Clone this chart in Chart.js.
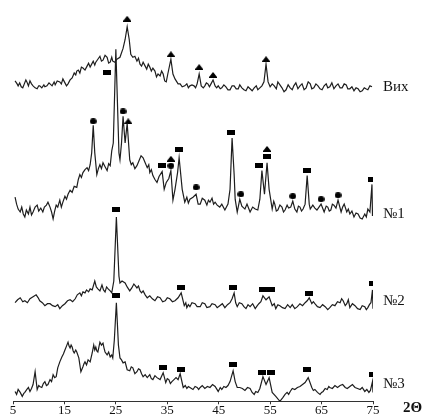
<!DOCTYPE html>
<html>
<head>
<meta charset="utf-8">
<title>XRD</title>
<script src="https://cdn.jsdelivr.net/npm/chart.js@4.4.1/dist/chart.umd.min.js"></script>
<style>
  body { margin: 0; background: #fff; }
  #holder { width: 432px; height: 416px; }
</style>
</head>
<body>
<div id="holder"><canvas id="xrd" width="432" height="416"></canvas></div>
<script>
// 2Theta, intensity (arbitrary, curves stacked)
var vih = [[5.4,325],[5.8,322],[6.0,320],[6.3,323],[6.6,319],[6.9,318],[7.2,322],[7.5,326],[7.7,324],[8.0,320],
  [8.3,325],[8.6,322],[8.9,320],[9.3,318],[9.7,317],[10.0,320],[10.2,320],[10.6,318],[11.0,321],[11.2,319],
  [11.6,320],[12.0,323],[12.2,322],[12.6,320],[13.0,324],[13.2,321],[13.6,325],[14.1,324],[14.4,322],[14.7,327],
  [15.1,323],[15.4,320],[15.7,322],[16.1,326],[16.5,328],[16.9,333],[17.2,331],[17.4,335],[17.7,336],[18.0,333],
  [18.3,339],[18.6,338],[19.0,336],[19.4,340],[19.7,343],[20.0,339],[20.3,342],[20.6,345],[20.9,341],[21.1,344],
  [21.5,347],[21.9,350],[22.2,345],[22.5,346],[22.9,351],[23.3,349],[23.6,343],[23.9,344],[24.2,349],[24.4,345],
  [24.8,344],[25.2,347],[25.8,349],[26.4,358],[26.8,367],[27.2,380],[27.6,367],[27.9,352],[28.3,349],[28.7,350],
  [29.1,345],[29.4,348],[29.7,342],[30.0,340],[30.3,344],[30.7,340],[31.0,337],[31.3,342],[31.6,339],[31.9,335],
  [32.2,338],[32.6,335],[32.9,329],[33.2,332],[33.6,330],[33.9,335],[34.2,332],[34.5,325],[34.8,324],[35.1,332],
  [35.7,347],[36.1,332],[36.5,327],[37.1,322],[37.5,322],[37.9,319],[38.4,320],[38.8,322],[39.1,318],[39.4,320],
  [39.8,321],[40.2,320],[40.5,318],[40.8,322],[41.2,332],[41.6,320],[42.0,318],[42.3,320],[42.6,323],[42.9,322],
  [43.2,319],[43.5,322],[43.9,326],[44.3,320],[44.6,318],[44.9,320],[45.3,317],[45.6,318],[46.0,321],[46.4,319],
  [46.8,316],[47.2,316],[47.6,320],[48.0,320],[48.4,317],[48.8,317],[49.1,321],[49.5,318],[49.9,316],[50.3,315],
  [50.7,319],[51.1,317],[51.5,315],[51.9,318],[52.3,320],[52.6,316],[53.0,318],[53.4,320],[53.8,324],[54.2,342],
  [54.6,324],[55.0,319],[55.4,322],[55.8,320],[56.2,317],[56.5,324],[56.9,321],[57.3,318],[57.7,314],[58.1,316],
  [58.5,321],[58.9,318],[59.3,316],[59.6,320],[60.0,323],[60.4,317],[60.8,320],[61.2,322],[61.6,316],[62.0,318],
  [62.4,324],[62.8,322],[63.1,317],[63.5,318],[63.9,322],[64.3,320],[64.7,317],[65.1,316],[65.5,320],[65.9,322],
  [66.2,318],[66.6,319],[67.0,323],[67.4,317],[67.8,320],[68.2,322],[68.6,318],[69.0,318],[69.4,322],[69.8,321],
  [70.1,317],[70.5,317],[70.9,319],[71.3,315],[71.7,318],[72.1,317],[72.5,314],[72.9,315],[73.3,318],[73.6,317],
  [74.0,316],[74.4,320],[74.8,319]];

var s1 = [[5.4,207],[5.7,200],[6.0,195],[6.4,192],[6.7,197],[7.0,190],[7.3,187],[7.6,194],[8.0,190],[8.3,197],
  [8.6,189],[8.9,192],[9.3,197],[9.7,199],[10.0,193],[10.4,196],[10.8,192],[11.1,197],[11.5,199],[11.8,202],
  [12.2,197],[12.5,192],[12.8,185],[13.1,193],[13.4,199],[13.7,197],[14.1,204],[14.4,197],[14.7,202],[15.1,208],
  [15.4,205],[15.7,210],[16.1,214],[16.5,212],[16.9,218],[17.4,217],[17.7,225],[18.0,230],[18.3,227],[18.6,232],
  [19.0,235],[19.4,237],[19.7,234],[20.0,240],[20.3,252],[20.6,280],[20.9,252],[21.3,230],[21.6,236],[21.9,240],
  [22.2,236],[22.5,242],[22.9,238],[23.3,234],[23.6,241],[23.9,239],[24.2,254],[24.5,262],[25.0,357],[25.6,252],
  [25.8,245],[26.1,262],[26.4,289],[26.8,262],[27.2,282],[27.7,245],[28.0,240],[28.3,242],[28.7,236],[29.1,239],
  [29.5,244],[29.9,249],[30.3,247],[30.7,242],[31.1,237],[31.4,240],[31.6,232],[31.9,235],[32.2,229],[32.6,225],
  [33.0,222],[33.4,228],[34.0,233],[34.4,215],[34.8,222],[35.3,226],[35.7,234],[36.1,204],[36.5,215],[37.0,232],
  [37.3,247],[37.9,215],[38.4,202],[38.8,207],[39.1,201],[39.4,205],[40.0,207],[40.6,210],[41.0,200],[41.4,200],
  [41.8,206],[42.3,204],[42.7,199],[43.0,204],[43.3,202],[43.7,206],[44.0,200],[44.3,202],[44.7,199],[45.2,197],
  [45.6,200],[46.2,194],[46.8,200],[47.2,215],[47.6,267],[48.0,230],[48.2,205],[48.6,192],[49.1,205],[49.5,198],
  [50.1,195],[50.5,200],[51.1,192],[51.6,197],[52.1,195],[52.6,194],[53.0,205],[53.4,234],[53.9,210],[54.4,242],
  [54.8,215],[55.4,195],[55.7,203],[55.9,200],[56.2,193],[56.5,194],[56.9,199],[57.3,197],[57.6,192],[57.9,194],
  [58.3,199],[58.6,196],[59.0,197],[59.4,203],[59.8,195],[60.2,192],[60.5,198],[60.8,197],[61.1,193],[61.4,195],
  [61.8,200],[62.2,229],[62.6,200],[62.8,195],[63.3,199],[63.7,196],[64.1,194],[64.5,197],[64.9,200],[65.5,192],
  [65.9,198],[66.2,197],[66.5,193],[66.8,194],[67.1,200],[67.4,199],[67.8,196],[68.2,204],[68.8,192],[69.1,197],
  [69.4,200],[69.9,192],[70.2,195],[70.5,190],[70.9,193],[71.3,187],[71.7,191],[72.1,190],[72.5,186],[72.9,185],
  [73.4,190],[73.7,187],[74.0,195],[74.4,192],[74.8,220],[74.9,188]];

var s2 = [[5.4,100],[5.9,103],[6.4,105],[6.9,101],[7.3,102],[7.8,100],[8.3,104],[8.9,106],[9.5,108],[9.9,105],
  [10.2,102],[10.7,100],[11.2,97],[11.7,99],[12.2,99],[12.7,97],[13.2,96],[13.7,98],[14.1,94],[14.6,97],
  [15.1,99],[15.6,102],[16.1,103],[16.6,101],[17.1,104],[17.5,108],[18.0,110],[18.3,107],[18.6,111],[19.0,110],
  [19.3,113],[19.7,111],[20.0,114],[20.4,113],[20.9,122],[21.2,116],[21.5,114],[21.9,112],[22.3,118],[22.6,113],
  [22.9,111],[23.2,116],[23.5,114],[23.9,112],[24.2,110],[24.6,122],[25.1,187],[25.6,127],[25.8,120],[26.2,122],
  [26.8,120],[27.2,116],[27.7,112],[28.1,115],[28.5,119],[28.8,117],[29.1,115],[29.4,117],[29.7,112],[30.0,110],
  [30.3,112],[30.7,108],[31.1,105],[31.6,107],[32.1,104],[32.6,102],[33.1,106],[33.6,105],[34.1,101],[34.6,102],
  [35.0,105],[35.5,104],[36.0,101],[36.5,102],[37.1,105],[37.7,110],[38.3,97],[38.6,100],[38.8,95],[39.1,98],
  [39.4,96],[39.8,100],[40.4,99],[40.8,96],[41.4,96],[41.8,100],[42.3,99],[42.7,95],[43.3,96],[43.7,99],
  [44.3,98],[44.7,95],[45.2,97],[45.7,99],[46.2,95],[46.7,98],[47.2,100],[47.6,104],[48.0,110],[48.3,100],
  [48.6,96],[49.0,100],[49.5,99],[49.9,96],[50.3,94],[50.7,98],[51.1,96],[51.6,99],[52.1,94],[52.5,97],
  [52.8,99],[53.2,101],[53.6,107],[54.2,103],[54.8,106],[55.4,97],[55.8,99],[56.1,94],[56.5,98],[56.9,97],
  [57.4,95],[57.9,94],[58.4,98],[58.9,95],[59.3,98],[59.8,94],[60.3,96],[60.8,99],[61.3,97],[61.8,100],
  [62.2,102],[62.6,105],[63.1,99],[63.4,101],[63.7,99],[64.2,96],[64.7,95],[65.2,98],[65.7,96],[66.2,93],
  [66.6,95],[67.1,98],[67.6,97],[68.1,101],[68.6,100],[68.9,104],[69.2,102],[69.6,97],[69.9,99],[70.2,103],
  [70.5,95],[71.0,99],[71.5,97],[72.0,94],[72.5,93],[72.9,97],[73.4,96],[73.7,93],[74.0,95],[74.3,98],
  [74.6,100],[74.9,113],[75.0,94]];

var s3 = [[5.4,10],[5.7,7],[6.0,12],[6.4,9],[6.8,5],[7.1,8],[7.3,9],[7.7,12],[8.0,14],[8.3,10],
  [8.6,13],[8.9,17],[9.3,30],[9.7,12],[10.0,16],[10.2,15],[10.6,14],[10.9,18],[11.2,20],[11.5,16],
  [11.8,17],[12.2,22],[12.5,20],[12.8,27],[13.1,24],[13.4,25],[13.7,34],[14.1,40],[14.5,45],[14.8,48],
  [15.1,52],[15.4,56],[15.7,60],[15.9,56],[16.1,54],[16.3,57],[16.5,55],[16.7,51],[16.9,49],[17.2,52],
  [17.4,50],[17.8,44],[18.2,30],[18.6,35],[18.8,38],[19.0,40],[19.3,37],[19.6,42],[20.0,40],[20.4,49],
  [20.7,57],[20.9,52],[21.1,55],[21.3,51],[21.5,50],[21.9,60],[22.2,57],[22.5,59],[22.7,54],[22.9,50],
  [23.3,47],[23.6,50],[23.9,45],[24.2,47],[24.4,44],[24.7,62],[25.1,100],[25.5,57],[25.8,44],[26.1,42],
  [26.4,39],[26.8,40],[27.2,32],[27.7,31],[28.0,35],[28.3,34],[28.7,28],[29.1,30],[29.4,33],[29.7,32],
  [30.0,28],[30.3,25],[30.7,27],[31.1,24],[31.6,27],[31.9,23],[32.2,22],[32.6,26],[33.0,24],[33.6,22],
  [34.2,29],[34.7,19],[35.0,23],[35.3,22],[35.6,18],[35.9,20],[36.3,22],[36.7,24],[37.1,22],[37.5,28],
  [38.1,14],[38.5,16],[38.8,13],[39.1,15],[39.4,14],[40.0,12],[40.4,15],[40.8,14],[41.1,12],[41.4,14],
  [41.8,16],[42.3,13],[42.8,15],[43.3,14],[43.8,17],[44.3,15],[44.9,10],[45.3,14],[45.6,12],[46.0,15],
  [46.4,14],[46.8,16],[47.2,20],[47.8,31],[48.2,20],[48.6,14],[49.1,14],[49.6,13],[50.1,11],[50.6,14],
  [51.1,13],[51.5,9],[51.9,7],[52.2,10],[52.6,9],[53.0,13],[53.6,25],[54.2,17],[54.8,24],[55.4,9],
  [56.1,5],[56.9,0],[57.5,4],[57.9,7],[58.3,9],[58.6,7],[58.9,10],[59.3,13],[59.8,12],[60.3,14],
  [60.8,15],[61.3,17],[61.8,19],[62.4,24],[63.1,14],[63.4,11],[63.7,12],[64.2,9],[64.7,7],[65.0,9],
  [65.3,10],[65.7,13],[66.1,12],[66.4,15],[66.6,14],[67.1,13],[67.6,16],[68.1,14],[68.6,16],[69.1,17],
  [69.6,14],[70.0,13],[70.5,15],[71.0,17],[71.5,14],[72.0,13],[72.5,12],[72.9,14],[73.4,10],[73.8,12],
  [74.2,9],[74.5,11],[74.9,20],[75.0,9]];

// phase markers
var squares = [[23.3,334],[34.0,239],[37.2,255],[47.4,273],[52.9,239],[54.4,248],[62.2,234],[74.8,225],
  [25.0,195],[37.7,115],[47.8,115],[53.6,113],[55.2,113],[62.6,109],[75.0,119],
  [25.0,107],[34.2,34],[37.7,32],[47.8,37],[53.4,29],[55.2,29],[62.2,32],[75.0,27]];
var triangles = [[27.2,388],[35.7,352],[41.2,339],[43.9,331],[54.2,347],
  [27.4,284],[35.7,246],[54.4,256]];
var circles = [[20.6,284],[26.4,294],[35.7,239],[40.6,217],[49.3,210],[59.4,208],[64.9,205],[68.2,209]];

var curveNames = ['Вих', '№1', '№2', '№3'];
var nameLevels = [319, 190, 102, 17];
var xTicks = [5, 15, 25, 35, 45, 55, 65, 75];

function mkIcon(kind) {
  var c = document.createElement('canvas');
  var g = c.getContext('2d');
  g.fillStyle = '#000';
  if (kind == 'rect') {
    c.width = 8; c.height = 5;
    g.fillRect(0, 0, 8, 5);
  } else if (kind == 'tri') {
    c.width = 8; c.height = 6;
    g.beginPath(); g.moveTo(4, 0); g.lineTo(8, 5); g.lineTo(0, 5); g.closePath(); g.fill();
    g.fillRect(0, 5, 8, 1);
  } else {
    c.width = 7; c.height = 6;
    g.beginPath(); g.ellipse(3.5, 3, 3.4, 2.9, 0, 0, Math.PI * 2); g.fill();
  }
  return c;
}

function pts(arr) {
  return arr.map(function(p) { return {x: p[0], y: p[1]}; });
}

function curve(arr) {
  return {type: 'line', data: pts(arr), borderColor: '#1e1e1e', borderWidth: 1.2,
    pointRadius: 0, tension: 0, fill: false};
}

function marks(arr, kind) {
  return {type: 'scatter', data: pts(arr), pointStyle: mkIcon(kind), pointRadius: 4, showLine: false};
}

var labelPlugin = {
  id: 'curveNames',
  afterDraw: function(chart) {
    var ctx = chart.ctx, xs = chart.scales.x, ys = chart.scales.y;
    ctx.save();
    ctx.fillStyle = '#111';
    ctx.textBaseline = 'middle';
    ctx.font = '15px "Liberation Serif"';
    for (var i = 0; i < curveNames.length; i++) {
      ctx.fillText(curveNames[i], xs.getPixelForValue(75) + 10, ys.getPixelForValue(nameLevels[i]));
    }
    ctx.font = 'bold 15px "Liberation Serif"';
    ctx.fillText('2Θ', xs.right + 30, ys.bottom + 7);
    ctx.restore();
  }
};

var ctx = document.getElementById('xrd').getContext('2d');
new Chart(ctx, {
  data: {
    datasets: [curve(vih), curve(s1), curve(s2), curve(s3),
      marks(squares, 'rect'), marks(triangles, 'tri'), marks(circles, 'circ')]
  },
  options: {
    responsive: false,
    animation: false,
    layout: {padding: {left: 13, right: 59, top: 0, bottom: 0}},
    plugins: {legend: {display: false}, tooltip: {enabled: false}},
    scales: {
      x: {
        type: 'linear', min: 5, max: 75,
        afterBuildTicks: function(axis) { axis.ticks = xTicks.map(function(v) { return {value: v}; }); },
        grid: {drawOnChartArea: false, tickLength: 3, color: '#333'},
        border: {color: '#333', width: 1},
        ticks: {color: '#111', padding: 0, font: {family: 'Liberation Serif', size: 13, lineHeight: 0.9},
          maxRotation: 0, autoSkip: false}
      },
      y: {type: 'linear', min: 0, max: 402, display: false}
    }
  },
  plugins: [labelPlugin]
});
</script>
</body>
</html>
